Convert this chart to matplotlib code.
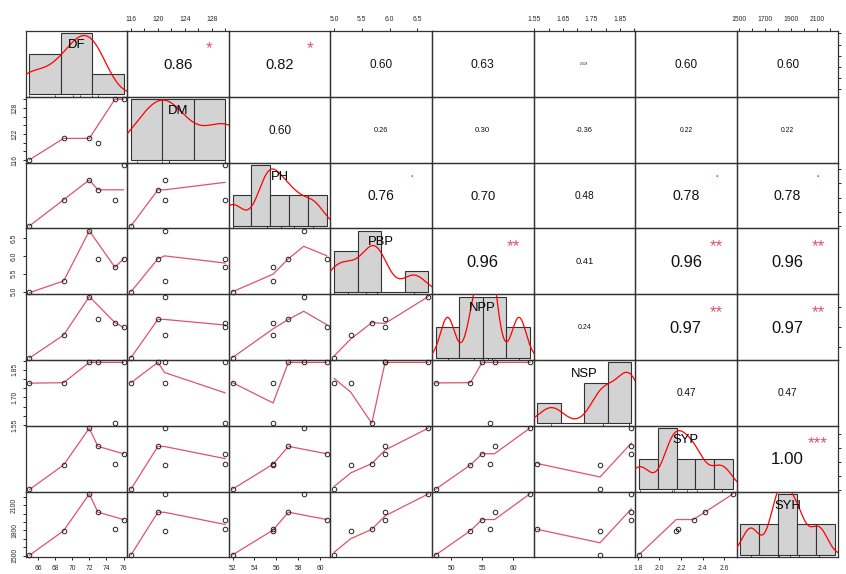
import math
import numpy as np
import matplotlib
matplotlib.use("Agg")
import matplotlib.pyplot as plt
from matplotlib.font_manager import FontProperties
from matplotlib.textpath import TextPath, text_to_path
from matplotlib.transforms import offset_copy

# ---- trait values for six genotypes ----
names = ["DF", "DM", "PH", "PBP", "NPP", "NSP", "SYP", "SYH"]
DF = [65, 69, 72, 73, 75, 76]
DM = [116, 121, 121, 120, 130, 130]
PH = [52.0, 55.7, 58.5, 57.1, 55.7, 60.6]
PBP = [5.00, 5.30, 6.70, 5.92, 5.68, 5.92]
NPP = [47.5, 53.1, 62.7, 57.0, 56.2, 55.0]
NSP = [1.78, 1.78, 1.89, 1.89, 1.56, 1.89]
SYP = [1.81, 2.155, 2.68, 2.42, 2.175, 2.315]
SYH = [1508, 1796, 2234, 2017, 1812, 1929]

# histogram class limits
DF_breaks = [65, 70, 75, 80]
DM_breaks = [115, 120, 125, 130]
PH_breaks = [52, 54, 56, 58, 60, 62]
PBP_breaks = [5.0, 5.5, 6.0, 6.5, 7.0]
NPP_breaks = [45, 50, 55, 60, 65]
NSP_breaks = [1.5, 1.6, 1.7, 1.8, 1.9]
SYP_breaks = [1.8, 2.0, 2.2, 2.4, 2.6, 2.8]
SYH_breaks = [1400, 1600, 1800, 2000, 2200, 2400]

# axis tick spacing per trait
tick_steps = [2, 2, 2, 0.5, 5, 0.05, 0.2, 100]

data = [np.asarray(v, float) for v in (DF, DM, PH, PBP, NPP, NSP, SYP, SYH)]
breaks = [np.asarray(b, float) for b in (DF_breaks, DM_breaks, PH_breaks, PBP_breaks,
                                         NPP_breaks, NSP_breaks, SYP_breaks, SYH_breaks)]

# label every k-th tick (horizontal axes / vertical axes)
h_stride = [1, 2, 1, 1, 1, 2, 1, 2]
v_stride = [2, 3, 2, 1, 2, 3, 2, 3]

FAMILY = ["Liberation Sans", "DejaVu Sans"]
plt.rcParams["font.family"] = FAMILY
SMOOTH_COL = "#DF536B"
FRAME_COL = "#333333"


def r_lowess(x, y, f=2 / 3, nsteps=3):
    order = np.argsort(x, kind="stable")
    x = np.asarray(x, float)[order]
    y = np.asarray(y, float)[order]
    n = len(x)
    delta = 0.01 * (x[-1] - x[0])
    ns = max(2, min(n, int(f * n + 1e-7)))
    ys = np.zeros(n)
    rw = np.ones(n)
    rng = x[-1] - x[0]

    def lowest(xs, nleft, nright, userw):
        h = max(xs - x[nleft], x[nright] - xs)
        h9, h1 = 0.999 * h, 0.001 * h
        w = np.zeros(n)
        a = 0.0
        j = nleft
        while j < n:
            r = abs(x[j] - xs)
            if r <= h9:
                w[j] = 1.0 if r <= h1 else (1 - (r / h) ** 3) ** 3
                if userw:
                    w[j] *= rw[j]
                a += w[j]
            elif x[j] > xs:
                break
            j += 1
        nrt = j - 1
        if a <= 0:
            return None
        sl = slice(nleft, nrt + 1)
        w[sl] /= a
        if h > 0:
            a = np.sum(w[sl] * x[sl])
            b = xs - a
            c = np.sum(w[sl] * (x[sl] - a) ** 2)
            if math.sqrt(c) > 0.001 * rng:
                b /= c
                w[sl] *= b * (x[sl] - a) + 1
        return float(np.sum(w[sl] * y[sl]))

    it = 1
    while it <= nsteps + 1:
        nleft, nright, last, i = 0, ns - 1, -1, 0
        while True:
            if nright < n - 1:
                d1 = x[i] - x[nleft]
                d2 = x[nright + 1] - x[i]
                if d1 > d2:
                    nleft += 1
                    nright += 1
                    continue
            v = lowest(x[i], nleft, nright, it > 1)
            ys[i] = y[i] if v is None else v
            if last < i - 1:
                denom = x[i] - x[last]
                for j in range(last + 1, i):
                    alpha = (x[j] - x[last]) / denom
                    ys[j] = alpha * ys[i] + (1 - alpha) * ys[last]
            last = i
            cut = x[last] + delta
            i = last + 1
            while i < n:
                if x[i] > cut:
                    break
                if x[i] == x[last]:
                    ys[i] = ys[last]
                    last = i
                i += 1
            i = max(last + 1, i - 1)
            if last >= n - 1:
                break
        res = y - ys
        sc = np.mean(np.abs(res))
        if it > nsteps:
            break
        ra = np.sort(np.abs(res))
        m1 = n // 2
        if n % 2 == 0:
            cmad = 3 * (ra[m1] + ra[n - m1 - 1])
        else:
            cmad = 6 * ra[m1]
        if cmad < 1e-7 * sc:
            break
        r = np.abs(res)
        rw = np.where(r <= 0.001 * cmad, 1.0,
                      np.where(r <= 0.999 * cmad, (1 - (r / cmad) ** 2) ** 2, 0.0))
        it += 1
    return x, ys


def r_density(v, npts=512):
    v = np.asarray(v, float)
    sd = v.std(ddof=1)
    iqr = np.subtract(*np.percentile(v, [75, 25]))
    lo = min(sd, iqr / 1.34) if iqr > 0 else sd
    bw = 0.9 * lo * len(v) ** -0.2
    gx = np.linspace(v.min() - 3 * bw, v.max() + 3 * bw, npts)
    gy = np.exp(-0.5 * ((gx[:, None] - v[None, :]) / bw) ** 2).sum(axis=1)
    gy /= len(v) * bw * math.sqrt(2 * math.pi)
    return gx, gy


def t_pvalue(r, n):
    df = n - 2
    if abs(r) >= 1:
        return 0.0
    t = r * math.sqrt(df / (1 - r * r))
    xb = df / (df + t * t)
    a, b = df / 2, 0.5
    u = np.linspace(0, xb, 20001)
    fu = u ** (a - 1) * (1 - u) ** (b - 1)
    beta = math.gamma(a) * math.gamma(b) / math.gamma(a + b)
    return float(np.trapezoid(fu, u) / beta)


def signif(p):
    if p <= 0.001:
        return "***"
    if p <= 0.01:
        return "**"
    if p <= 0.05:
        return "*"
    if p <= 0.1:
        return "."
    return ""


def fmt_r(r):
    if r == 0:
        return "0.00"
    e = math.floor(math.log10(abs(r)))
    dec = max(2, 1 - e)
    return f"{r:.{dec}f}"


def pad_range(lo, hi, frac=0.04):
    d = (hi - lo) * frac
    return lo - d, hi + d


def font(size):
    fp = FontProperties(family=FAMILY)
    fp.set_size(size)
    return fp


def adv_width(s, size):
    w, h, d = text_to_path.get_text_width_height_descent(s, font(size), ismath=False)
    return w


def put_text(ax, x, y, s, size, color):
    """Place text with advance centred horizontally and ink centred vertically."""
    if not s.strip():
        return
    fp = font(size)
    w = adv_width(s, size)
    ext = TextPath((0, 0), s, prop=fp).get_extents()
    cy = (ext.y0 + ext.y1) / 2
    tr = offset_copy(ax.transAxes, fig=ax.figure, x=-w / 2, y=-cy, units="points")
    ax.text(x, y, s, transform=tr, ha="left", va="baseline", fontproperties=fp, color=color)


def make_ticks(lo, hi, step):
    k0 = math.ceil(lo / step - 1e-9)
    k1 = math.floor(hi / step + 1e-9)
    ticks = [round(k * step, 10) for k in range(k0, k1 + 1)]
    dec = max(0, math.ceil(-math.log10(step) - 1e-9))
    labels = [f"{t:.{dec}f}" for t in ticks]
    return ticks, labels


TICK_KW = dict(direction="out", length=2.3, width=0.7, labelsize=4.9,
               colors="#2a2a2a")

W, H, DPI = 846, 574, 100
fig = plt.figure(figsize=(W / DPI, H / DPI), dpi=DPI, facecolor="white")
gs = fig.add_gridspec(8, 8, left=25.7 / W, right=838.3 / W,
                      bottom=1 - 557.3 / H, top=1 - 31 / H, wspace=0, hspace=0)

nvar = len(names)
nobs = len(data[0])
full_width_pt = 33 * 72 / DPI  # width of a coefficient label at |r| = 1

for i in range(nvar):
    for j in range(nvar):
        ax = fig.add_subplot(gs[i, j])
        ax.set_facecolor("none")
        for sp in ax.spines.values():
            sp.set_color(FRAME_COL)
            sp.set_linewidth(0.9)
        ax.set_xticks([])
        ax.set_yticks([])
        xv, yv = data[j], data[i]

        if i == j:
            b = breaks[i]
            idx = np.clip(np.searchsorted(b, xv, side="left") - 1, 0, len(b) - 2)
            counts = np.bincount(idx, minlength=len(b) - 1)
            dens = counts / (nobs * np.diff(b))
            ax.bar(b[:-1], dens, width=np.diff(b), align="edge", color="#d3d3d3",
                   edgecolor=FRAME_COL, linewidth=0.8, zorder=1)
            gx, gy = r_density(xv)
            ax.plot(gx, gy, color="red", lw=0.9, zorder=3)
            ax.vlines(xv, 0, 0.03, transform=ax.get_xaxis_transform(),
                      color="#222222", lw=0.6, zorder=2)
            ax.set_xlim(*pad_range(b[0], b[-1]))
            ax.set_ylim(-0.04 * dens.max(), 1.04 * dens.max())
            put_text(ax, 0.5, 0.81, names[i], 9.4, "black")
            continue

        ax.set_xlim(*pad_range(xv.min(), xv.max()))
        ax.set_ylim(*pad_range(yv.min(), yv.max()))

        if i > j:
            sx, sy = r_lowess(xv, yv)
            ax.plot(sx, sy, color=SMOOTH_COL, lw=0.9, zorder=2)
            ax.plot(xv, yv, ls="none", marker="o", ms=3.3, mfc="none",
                    mec="#222222", mew=0.7, clip_on=False, zorder=3)
        else:
            r = float(np.corrcoef(xv, yv)[0, 1])
            txt = fmt_r(r)
            base = full_width_pt / adv_width(txt, 1.0)
            put_text(ax, 0.5, 0.5, txt, base * (abs(r) + 0.3) / 1.3, "#111111")
            put_text(ax, 0.8, 0.79, signif(t_pvalue(r, nobs)), base, SMOOTH_COL)

        # outer axes, alternating sides
        if i == 0 and j % 2 == 1:
            t, l = make_ticks(*ax.get_xlim(), tick_steps[j])
            l = [s if k % h_stride[j] == 0 else "" for k, s in enumerate(l)]
            ax.set_xticks(t, labels=l)
            ax.tick_params(axis="x", top=True, bottom=False, labeltop=True,
                           labelbottom=False, pad=3.2, **TICK_KW)
        if i == nvar - 1 and j % 2 == 0:
            t, l = make_ticks(*ax.get_xlim(), tick_steps[j])
            l = [s if k % h_stride[j] == 0 else "" for k, s in enumerate(l)]
            ax.set_xticks(t, labels=l)
            ax.tick_params(axis="x", top=False, bottom=True, labeltop=False,
                           labelbottom=True, pad=3.2, **TICK_KW)
        if j == 0 and i % 2 == 1:
            t, l = make_ticks(*ax.get_ylim(), tick_steps[i])
            l = [s if k % v_stride[i] == 0 else "" for k, s in enumerate(l)]
            ax.set_yticks(t, labels=l)
            ax.tick_params(axis="y", left=True, right=False, labelleft=True,
                           labelright=False, pad=3.2, labelrotation=90, **TICK_KW)
            for lab in ax.get_yticklabels():
                lab.set_va("center")
        if j == nvar - 1 and i % 2 == 0:
            # right-hand axis: ticks only, its labels fall beyond the figure edge
            t, _ = make_ticks(*ax.get_ylim(), tick_steps[i])
            ax.set_yticks(t)
            ax.tick_params(axis="y", left=False, right=True, labelleft=False,
                           labelright=False, **TICK_KW)

fig.savefig("out.png", dpi=DPI, facecolor="white")
